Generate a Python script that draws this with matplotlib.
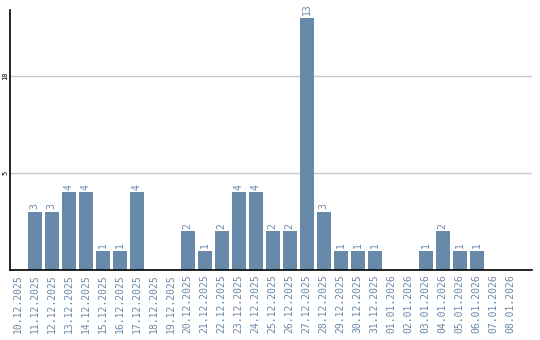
import matplotlib
matplotlib.use("Agg")
import matplotlib.pyplot as plt

dates = ["10.12.2025", "11.12.2025", "12.12.2025", "13.12.2025", "14.12.2025",
         "15.12.2025", "16.12.2025", "17.12.2025", "18.12.2025", "19.12.2025",
         "20.12.2025", "21.12.2025", "22.12.2025", "23.12.2025", "24.12.2025",
         "25.12.2025", "26.12.2025", "27.12.2025", "28.12.2025", "29.12.2025",
         "30.12.2025", "31.12.2025", "01.01.2026", "02.01.2026", "03.01.2026",
         "04.01.2026", "05.01.2026", "06.01.2026", "07.01.2026", "08.01.2026"]
counts = [0, 3, 3, 4, 4, 1, 1, 4, 0, 0,
          2, 1, 2, 4, 4, 2, 2, 13, 3, 1,
          1, 1, 0, 0, 1, 2, 1, 1, 0, 0]
yticks = [5, 10]

bar_color = "#688aaa"
text_color = "#6a88a8"

fig = plt.figure(figsize=(5.4, 3.4), dpi=100)
ax = fig.add_axes([10/540, 70/340, 522/540, 260/340])

x = list(range(len(dates)))
ax.bar(x, counts, width=0.82, color=bar_color, zorder=2)

for i, c in enumerate(counts):
    if c > 0:
        ax.text(i, c + 0.12, str(c), rotation=90, ha="center", va="bottom",
                color=text_color, fontsize=7, family="DejaVu Sans Mono")

ax.set_xlim(-0.45, 30.25)
ax.set_ylim(0, 13.4)
ax.set_yticks(yticks)
ax.set_yticklabels([str(t) for t in yticks], rotation=90, va="center",
                   fontsize=5, family="DejaVu Sans Mono")
ax.set_xticks(x)
ax.set_xticklabels(dates, rotation=90, color=text_color, fontsize=7,
                   family="DejaVu Sans Mono")
ax.tick_params(axis="x", length=0, pad=3)
ax.tick_params(axis="y", length=0, pad=1)
ax.grid(axis="y", color="#c8c8c8", linewidth=1, zorder=0)
ax.spines["top"].set_visible(False)
ax.spines["right"].set_visible(False)
ax.spines["left"].set_linewidth(1.2)
ax.spines["bottom"].set_linewidth(1.2)

fig.savefig("out.png", dpi=100)
